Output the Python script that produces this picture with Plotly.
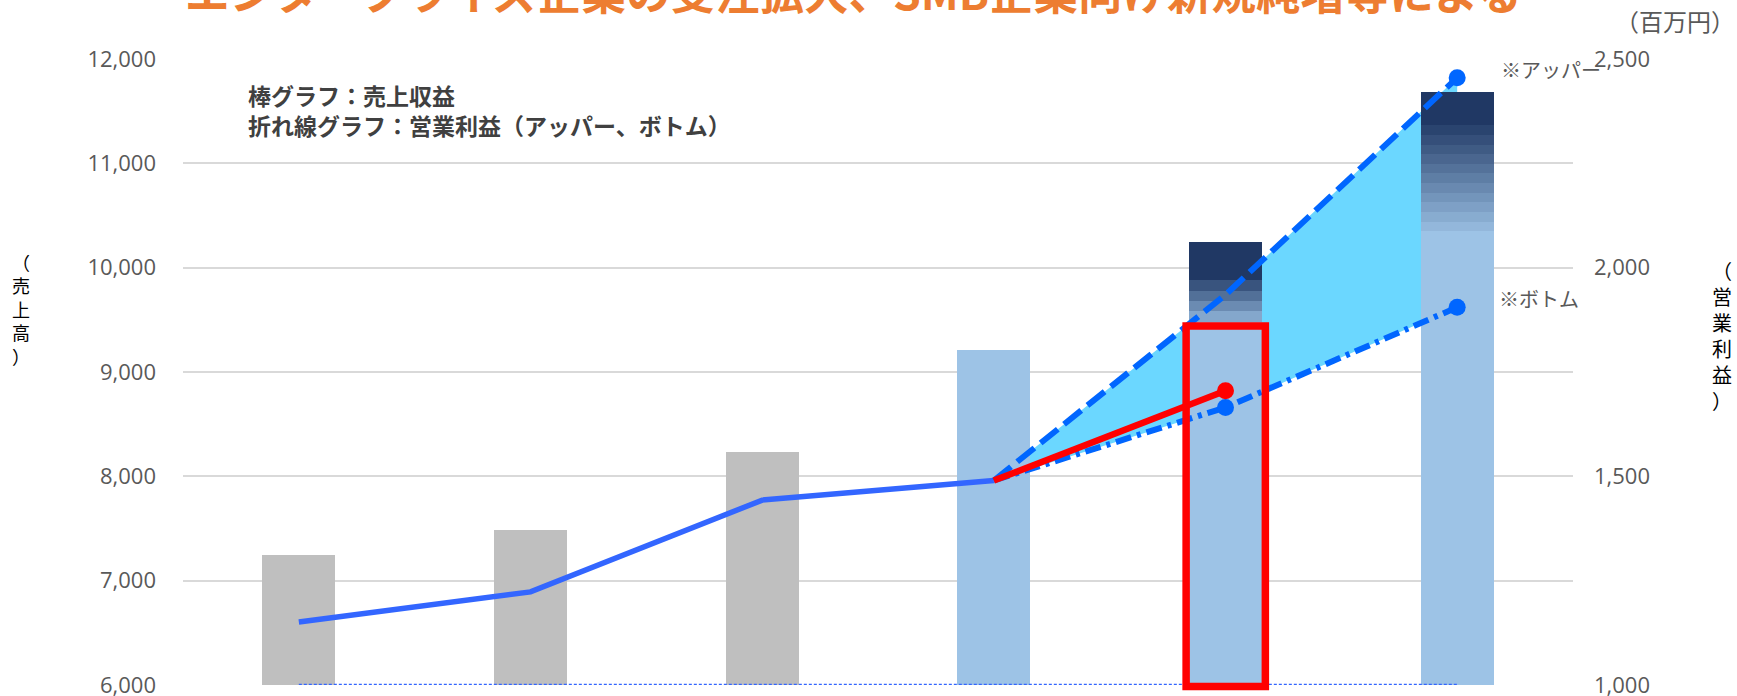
import plotly.graph_objects as go

# ---------------- data ----------------
categories = ["第1期", "第2期", "第3期", "第4期", "第5期(予)", "第6期(予)"]
sales_base = [7250, 7490, 8230, 9210, 9480, 10350]        # 売上収益（ボトム部分）
sales_grad_top = [None, None, None, None, 9880, 11365]    # グラデーション上端
sales_upper = [None, None, None, None, 10245, 11680]      # 売上収益（アッパー）
op_actual = [1151, 1223, 1443, 1490, None, None]          # 営業利益 実績
op_forecast = [None, None, None, 1490, 1705, None]        # 営業利益 今期予想
op_upper = [None, None, None, 1490, 1935, 2455]           # 営業利益 アッパー
op_bottom = [None, None, None, 1490, 1665, 1905]          # 営業利益 ボトム
op_floor = [1000, 1000, 1000, 1000, 1000, 1000]
bar_colors = ["#BFBFBF", "#BFBFBF", "#BFBFBF", "#9DC3E6", "#9DC3E6", "#9DC3E6"]
left_ticks = [6000, 7000, 8000, 9000, 10000, 11000, 12000]
right_ticks = [1000, 1500, 2000, 2500]

LIGHT = (157, 195, 230)
DARK = (32, 56, 100)
TICK_FONT = dict(family="Open Sans", size=22, color="#595959")
JP = "Noto Sans CJK JP"
BAR_W = 0.315


def mix(t):
    r, g, b = (round(LIGHT[j] + (DARK[j] - LIGHT[j]) * t) for j in range(3))
    return f"rgb({r},{g},{b})"


fig = go.Figure()

# ---- range fill between upper and bottom (behind bars) ----
fx = categories[3:] + categories[3:][::-1]
fy = op_upper[3:] + op_bottom[3:][::-1]
fig.add_trace(go.Scatter(x=fx, y=fy, fill="toself", fillcolor="#6BD7FF",
                         line=dict(width=0), mode="lines", yaxis="y",
                         hoverinfo="skip", showlegend=False))

# ---- bars ----
for i, c in enumerate(categories):
    fig.add_trace(go.Bar(x=[c], y=[sales_base[i]], width=BAR_W, yaxis="y2",
                         marker=dict(color=bar_colors[i], line=dict(width=0)),
                         showlegend=False))
    if sales_grad_top[i] is not None:
        lo, hi = sales_base[i], sales_grad_top[i]
        n = max(1, round((hi - lo) / 92))
        for k in range(n):
            b0 = lo + (hi - lo) * k / n
            b1 = lo + (hi - lo) * (k + 1) / n
            fig.add_trace(go.Bar(x=[c], y=[b1 - b0], base=[b0], width=BAR_W, yaxis="y2",
                                 marker=dict(color=mix((k + 1) / (n + 1)), line=dict(width=0)),
                                 showlegend=False))
        fig.add_trace(go.Bar(x=[c], y=[sales_upper[i] - hi], base=[hi], width=BAR_W, yaxis="y2",
                             marker=dict(color="#203864", line=dict(width=0)),
                             showlegend=False))

# ---- lines ----
MK = dict(color="#0066FF", opacity=1, line=dict(width=0))
fig.add_trace(go.Scatter(x=categories, y=op_floor, mode="lines", yaxis="y3",
                         line=dict(color="#3366FF", width=2.5, dash="3px,2px"),
                         cliponaxis=False, showlegend=False))
fig.add_trace(go.Scatter(x=categories, y=op_actual, mode="lines", yaxis="y3",
                         line=dict(color="#3366FF", width=5.5), showlegend=False))
fig.add_trace(go.Scatter(x=categories, y=op_upper, mode="lines+markers", yaxis="y3",
                         line=dict(color="#0066FF", width=6, dash="22px,8px"),
                         marker=dict(size=[0, 0, 0, 0, 0, 17], **MK),
                         cliponaxis=False, showlegend=False))
fig.add_trace(go.Scatter(x=categories, y=op_bottom, mode="lines+markers", yaxis="y3",
                         line=dict(color="#0066FF", width=6, dash="16px,6px,4px,6px"),
                         marker=dict(size=[0, 0, 0, 0, 17, 17], **MK),
                         showlegend=False))
fig.add_trace(go.Scatter(x=categories, y=op_forecast, mode="lines+markers", yaxis="y3",
                         line=dict(color="#FF0000", width=6.5),
                         marker=dict(size=[0, 0, 0, 0, 17, 0], color="#FF0000", opacity=1,
                                     line=dict(width=0)),
                         showlegend=False))

# ---- red highlight box around current-year bar ----
fig.add_shape(type="rect", xref="x", yref="paper", x0=3.83, x1=4.172, y0=-0.0024, y1=0.5733,
              line=dict(color="#FF0000", width=7.5), fillcolor="rgba(0,0,0,0)", layer="above")

annotations = [
    dict(text="<b>エンタープライズ企業の受注拡大、SMB企業向け新規純増等による</b>",
         x=0, y=1.054, xref="paper", yref="paper", xanchor="left", yanchor="bottom",
         showarrow=False, font=dict(family=JP, size=44.5, color="#ED7D31")),
    dict(text="<b>棒グラフ：売上収益<br>折れ線グラフ：営業利益（アッパー、ボトム）</b>",
         x=0.0453, y=0.9185, xref="paper", yref="paper", align="left",
         xanchor="left", yanchor="middle", showarrow=False,
         font=dict(family=JP, size=23, color="#404040")),
    dict(text="※アッパー", x=0.9468, y=0.9827, xref="paper", yref="paper", xanchor="left",
         yanchor="middle", showarrow=False, font=dict(family=JP, size=20, color="#595959")),
    dict(text="※ボトム", x=0.9456, y=0.618, xref="paper", yref="paper", xanchor="left",
         yanchor="middle", showarrow=False, font=dict(family=JP, size=20, color="#595959")),
    dict(text="（百万円）", x=1.1180, y=1.0618, xref="paper", yref="paper", xanchor="right",
         yanchor="middle", showarrow=False, font=dict(family=JP, size=24, color="#595959")),
    dict(text="（<br>売<br>上<br>高<br>）", x=-0.1168, y=0.600, xref="paper", yref="paper",
         xanchor="center", yanchor="middle", showarrow=False,
         font=dict(family=JP, size=18, color="#000000")),
    dict(text="（<br>営<br>業<br>利<br>益<br>）", x=1.1071, y=0.5591, xref="paper", yref="paper",
         xanchor="center", yanchor="middle", showarrow=False,
         font=dict(family=JP, size=20, color="#000000")),
]

fig.update_layout(
    width=1737, height=696,
    margin=dict(l=183, r=164, t=59, b=11),
    paper_bgcolor="white", plot_bgcolor="white",
    barmode="overlay", bargap=0,
    showlegend=False,
    xaxis=dict(type="category", categoryorder="array", categoryarray=categories,
               range=[-0.5, 5.5], showticklabels=False, showgrid=False,
               zeroline=False, showline=False, ticks="", automargin=False),
    yaxis=dict(range=[1000, 2500], visible=False, fixedrange=True, automargin=False),
    yaxis2=dict(overlaying="y", side="left", range=[6000, 12000], tickvals=left_ticks,
                tickformat=",", showgrid=True, gridcolor="#D9D9D9", gridwidth=1.5,
                zeroline=False, showline=False, ticks="", tickfont=TICK_FONT,
                ticklabelstandoff=26, ticklabeloverflow="allow", automargin=False),
    yaxis3=dict(overlaying="y", side="right", range=[1000, 2500], tickvals=right_ticks,
                tickformat=",", showgrid=False, zeroline=False, showline=False, ticks="",
                tickfont=TICK_FONT, ticklabelstandoff=20, ticklabeloverflow="allow",
                automargin=False),
    annotations=annotations,
)

fig.write_html("out.html")
